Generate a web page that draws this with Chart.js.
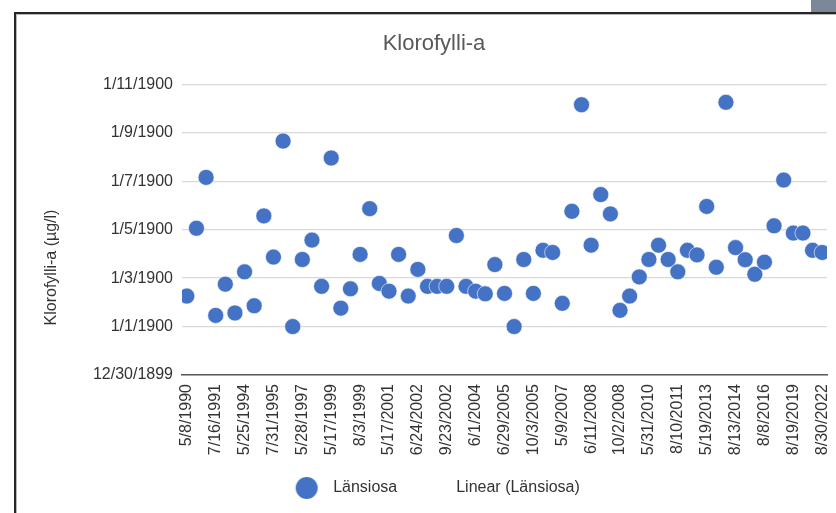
<!DOCTYPE html>
<html>
<head>
<meta charset="utf-8">
<script src="https://cdn.jsdelivr.net/npm/chart.js"></script>
<style>
  html, body { margin: 0; padding: 0; background: #fff; overflow: hidden; }
  #wrap { position: relative; width: 836px; height: 513px; overflow: hidden; background: #fff; }
  #chart { position: absolute; left: 0; top: 0; }
  #frame { position: absolute; left: 14px; top: 12px; right: -10px; bottom: -10px;
           border-left: 2px solid #262626; border-top: 2px solid #262626;
           box-shadow: inset 1px 1px 0 #b8b8b8; pointer-events: none; }
  #corner { position: absolute; right: 0; top: 0; width: 25px; height: 12px; background: #7d879a; }
</style>
</head>
<body>
<div id="wrap">
  <canvas id="chart" width="853" height="513"></canvas>
  <div id="frame"></div>
  <div id="corner"></div>
</div>
<script>
// every third sampling date is labelled on the category axis
const tickDates = [
    '5/8/1990', '7/16/1991', '5/25/1994', '7/31/1995', '5/28/1997', '5/17/1999',
    '8/3/1999', '5/17/2001', '6/24/2002', '9/23/2002', '6/1/2004', '6/29/2005',
    '10/3/2005', '5/9/2007', '6/11/2008', '10/2/2008', '5/31/2010', '8/10/2011',
    '5/19/2013', '8/13/2014', '8/8/2016', '8/19/2019', '8/30/2022'
];

// value axis is date-formatted in the source workbook (0..12 step 2)
const yTickLabels = ['12/30/1899', '1/1/1900', '1/3/1900', '1/5/1900', '1/7/1900', '1/9/1900', '1/11/1900'];

// chlorophyll-a, one value per sampling (67 samplings)
const lansiosa = [
    3.26, 6.06, 8.16, 2.46, 3.75, 2.56, 4.26, 2.86, 6.57, 4.87,
    9.66, 2.0, 4.77, 5.57, 3.66, 8.96, 2.76, 3.56, 4.98, 6.87,
    3.78, 3.46, 4.98, 3.26, 4.36, 3.66, 3.66, 3.66, 5.76, 3.66,
    3.46, 3.35, 4.56, 3.37, 2.0, 4.77, 3.37, 5.15, 5.06, 2.96,
    6.76, 11.16, 5.36, 7.45, 6.65, 2.67, 3.26, 4.05, 4.77, 5.36,
    4.77, 4.26, 5.15, 4.96, 6.96, 4.45, 11.26, 5.26, 4.76, 4.16,
    4.66, 6.16, 8.05, 5.86, 5.86, 5.15, 5.06
];

const seriesName = 'Länsiosa';
const trendName = 'Linear (Länsiosa)';
const chartTitle = 'Klorofylli-a';
const yTitle = 'Klorofylli-a (µg/l)';

const blue = '#4472C4';
const textColor = '#333333';
const fontFamily = '"Liberation Sans", Arial, sans-serif';

// legend marker drawn once so the label gap can be wider than the dot
const marker = document.createElement('canvas');
marker.width = 24;
marker.height = 24;
const mctx = marker.getContext('2d');
mctx.fillStyle = blue;
mctx.beginPath();
mctx.arc(12, 12, 11, 0, Math.PI * 2);
mctx.fill();

// y axis title sits lower than the plot centre in the original
const yTitlePlugin = {
    id: 'yTitle',
    afterDraw(chart) {
        const c = chart.ctx;
        c.save();
        c.translate(51.5, 267.5);
        c.rotate(-Math.PI / 2);
        c.font = '16px ' + fontFamily;
        c.fillStyle = textColor;
        c.textAlign = 'center';
        c.textBaseline = 'middle';
        c.fillText(yTitle, 0, 0);
        c.restore();
    }
};

new Chart(document.getElementById('chart'), {
    type: 'scatter',
    data: {
        datasets: [{
            label: seriesName,
            data: lansiosa.map((v, i) => ({ x: i, y: v })),
            backgroundColor: blue,
            borderColor: 'rgba(255, 255, 255, 0.6)',
            borderWidth: 1,
            pointRadius: 8
        }]
    },
    options: {
        responsive: false,
        animation: false,
        events: [],
        layout: { padding: { left: 15, right: 0, top: 13, bottom: 7 } },
        scales: {
            x: {
                type: 'linear',
                min: -0.5,
                max: lansiosa.length - 0.5,
                afterBuildTicks: (s) => { s.ticks = tickDates.map((_, k) => ({ value: k * 3 })); },
                ticks: {
                    autoSkip: false,
                    minRotation: 90,
                    maxRotation: 90,
                    padding: 9,
                    color: textColor,
                    font: { family: fontFamily, size: 16 },
                    callback: (v) => tickDates[v / 3]
                },
                grid: { display: false, drawTicks: false },
                border: { display: true, color: '#595959', width: 1.5, z: 1 },
                afterFit: (s) => { s.height = 91; }
            },
            y: {
                min: 0,
                max: 12,
                ticks: {
                    stepSize: 2,
                    padding: 9,
                    color: textColor,
                    font: { family: fontFamily, size: 16 },
                    callback: (v) => yTickLabels[v / 2]
                },
                grid: { color: '#d9d9d9', lineWidth: 1.3, drawTicks: false },
                border: { display: false },
                afterFit: (s) => { s.width = 167; }
            },
            yR: {
                type: 'linear',
                position: 'right',
                ticks: { display: false },
                grid: { display: false, drawTicks: false },
                border: { display: false },
                afterFit: (s) => { s.width = 26; }
            }
        },
        plugins: {
            title: {
                display: true,
                text: chartTitle,
                color: '#595959',
                font: { family: fontFamily, size: 22, weight: 'normal' },
                padding: { top: 18, bottom: 27 }
            },
            legend: {
                position: 'bottom',
                labels: {
                    usePointStyle: true,
                    pointStyleWidth: 37,
                    padding: 14,
                    color: textColor,
                    font: { family: fontFamily, size: 16 },
                    generateLabels: () => [
                        { text: seriesName, pointStyle: marker, fillStyle: blue, strokeStyle: blue,
                          lineWidth: 0, hidden: false, datasetIndex: 0, fontColor: textColor },
                        { text: trendName, pointStyle: 'line', fillStyle: 'rgba(0,0,0,0)',
                          strokeStyle: 'rgba(0,0,0,0)', lineWidth: 0, hidden: false, fontColor: textColor }
                    ]
                }
            },
            tooltip: { enabled: false }
        }
    },
    plugins: [yTitlePlugin]
});
</script>
</body>
</html>
